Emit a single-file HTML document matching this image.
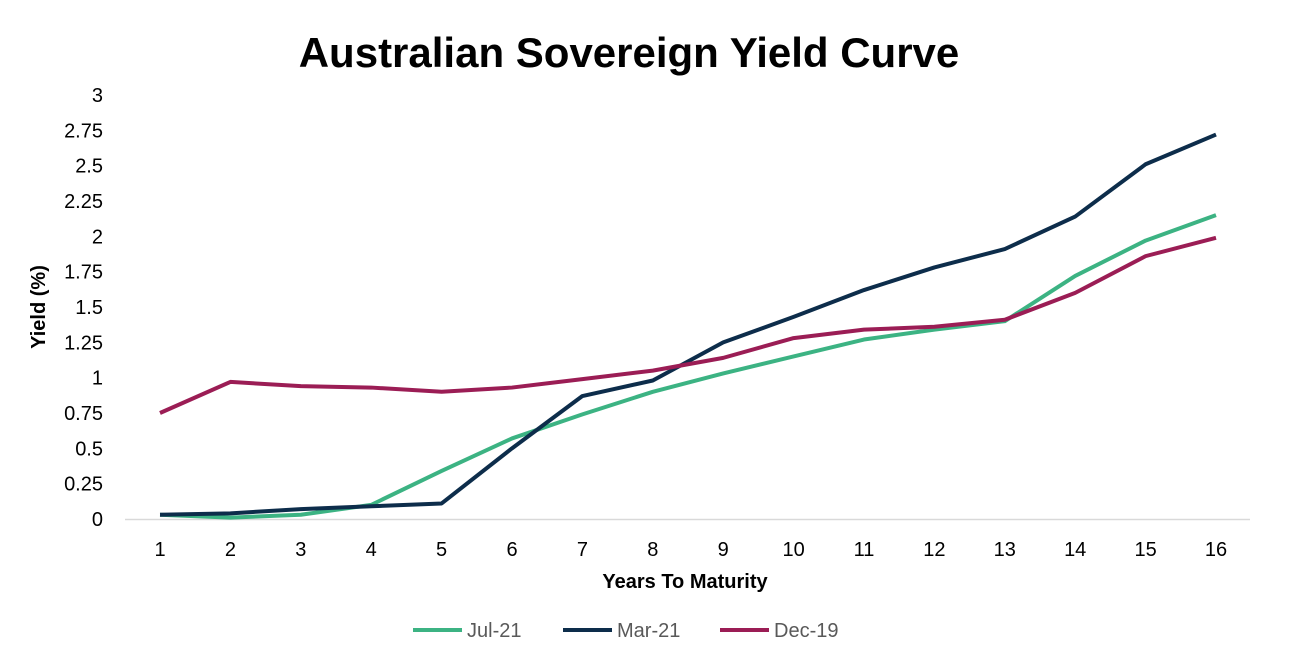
<!DOCTYPE html>
<html><head><meta charset="utf-8"><style>
body{margin:0;background:#fff;}
svg{display:block;font-family:"Liberation Sans",Arial,sans-serif;}
</style></head><body>
<svg id="c" width="1313" height="649" viewBox="0 0 1313 649">
<rect width="1313" height="649" fill="#fff"/>
<text x="629" y="67" text-anchor="middle" font-size="42" font-weight="bold" fill="#000">Australian Sovereign Yield Curve</text>
<line x1="125" y1="519.5" x2="1250" y2="519.5" stroke="#d9d9d9" stroke-width="1.5"/>
<g id="yt" font-size="20" fill="#000" text-anchor="end"></g>
<g id="xt" font-size="20" fill="#000" text-anchor="middle"></g>
<text x="685" y="588" text-anchor="middle" font-size="20" font-weight="bold">Years To Maturity</text>
<text transform="translate(45,307) rotate(-90)" text-anchor="middle" font-size="20" font-weight="bold">Yield (%)</text>
<g id="s" fill="none" stroke-width="4" stroke-linejoin="round"></g>
<g font-size="20" fill="#595959">
<line x1="413" y1="630" x2="462" y2="630" stroke="#3cb383" stroke-width="4"/><text x="467" y="637">Jul-21</text>
<line x1="563" y1="630" x2="612" y2="630" stroke="#0d2d4b" stroke-width="4"/><text x="617" y="637">Mar-21</text>
<line x1="720" y1="630" x2="769" y2="630" stroke="#9b1d55" stroke-width="4"/><text x="774" y="637">Dec-19</text>
</g>
<script>
var ns="http://www.w3.org/2000/svg";
function Y(v){return 519-v*141.33}function X(i){return 160+i*70.4}
var yt=document.getElementById('yt');
for(var k=0;k<=12;k++){var v=k*0.25,t=document.createElementNS(ns,'text');t.setAttribute('x',103);t.setAttribute('y',Y(v)+7);t.textContent=String(v);yt.appendChild(t);}
var xt=document.getElementById('xt');
for(var i=0;i<16;i++){var t=document.createElementNS(ns,'text');t.setAttribute('x',X(i));t.setAttribute('y',556);t.textContent=i+1;xt.appendChild(t);}
var d=[["#3cb383",[0.03,0.01,0.03,0.1,0.34,0.57,0.74,0.9,1.03,1.15,1.27,1.34,1.4,1.72,1.97,2.15]],
["#0d2d4b",[0.03,0.04,0.07,0.09,0.11,0.5,0.87,0.98,1.25,1.43,1.62,1.78,1.91,2.14,2.51,2.72]],
["#9b1d55",[0.75,0.97,0.94,0.93,0.9,0.93,0.99,1.05,1.14,1.28,1.34,1.36,1.41,1.6,1.86,1.99]]];
var s=document.getElementById('s');
d.forEach(function(r){var p=document.createElementNS(ns,'polyline');p.setAttribute('stroke',r[0]);p.setAttribute('points',r[1].map(function(v,i){return X(i)+','+Y(v)}).join(' '));s.appendChild(p);});
</script>
</svg>
</body></html>
